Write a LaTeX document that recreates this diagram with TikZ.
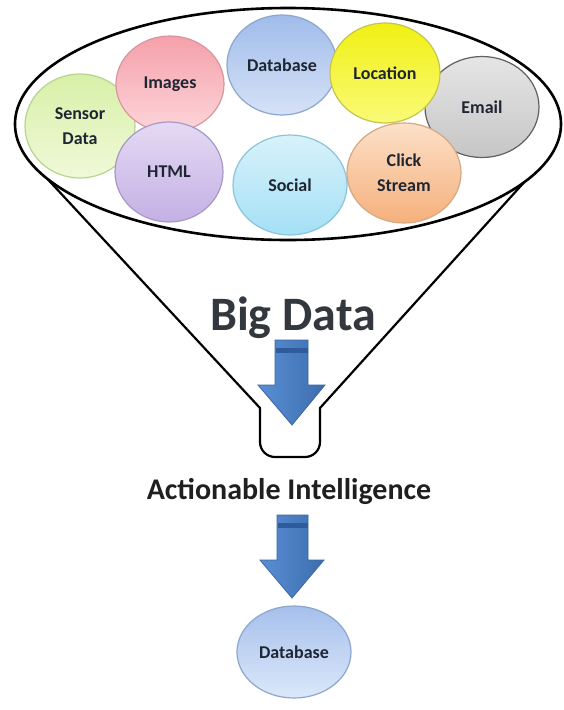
\documentclass[tikz,border=0pt]{standalone}
\usepackage{fontspec}
\setmainfont{Carlito}
\usetikzlibrary{shapes.geometric}
\definecolor{txt}{HTML}{1F2633}
\definecolor{bigtxt}{HTML}{33373E}
\definecolor{arrL}{HTML}{5A8FD4}
\definecolor{arrR}{HTML}{3C6DAE}
\definecolor{arrEdge}{HTML}{3A66A0}
\definecolor{arrBand}{HTML}{2E5C9A}
\tikzset{
  bubble/.style={ellipse, line width=1.2pt, inner sep=0pt, align=center,
    text=txt, font=\bfseries\fontsize{18}{25}\selectfont},
  funnelline/.style={draw=black, line width=2.2pt, line cap=round, line join=round},
  blockarrow/.style={left color=arrL, right color=arrR, draw=arrEdge, line width=0.8pt},
  band/.style={fill=arrBand},
}
\begin{document}
\begin{tikzpicture}[x=1pt,y=-1pt]
\fill[white] (0,0) rectangle (564,710);
\path[use as bounding box] (0,0) rectangle (564,710);

% funnel rim (shape only, outline drawn later)
\node[ellipse, minimum width=546pt, minimum height=232pt, inner sep=0pt, fill=white] (funnel) at (288,124) {};

% funnel sides and neck
\coordinate (neckL) at (260,408);
\coordinate (neckR) at (320,408);
\draw[funnelline] (funnel.193) -- (neckL);
\draw[funnelline] (funnel.346) -- (neckR);
\draw[funnelline, rounded corners=15pt] (neckL) -- (260,457) -- (320,457) -- (neckR);

% bubbles
\node[bubble, minimum width=114pt, minimum height=101pt, top color=gray!20, bottom color=gray!45, draw=gray!75!black] (email) at (482,107) {Email};
\node[bubble, minimum width=110pt, minimum height=104pt, top color={rgb,255:red,216;green,240;blue,168}, bottom color={rgb,255:red,240;green,249;blue,216}, draw={rgb,255:red,182;green,212;blue,140}] (sensor) at (80,126) {Sensor\\Data};
\node[bubble, minimum width=108pt, minimum height=96pt, top color={rgb,255:red,245;green,160;blue,170}, bottom color={rgb,255:red,252;green,214;blue,218}, draw={rgb,255:red,216;green,150;blue,158}] (images) at (170,84) {Images};
\node[bubble, minimum width=110pt, minimum height=100pt, top color={rgb,255:red,160;green,188;blue,234}, bottom color={rgb,255:red,214;green,226;blue,247}, draw={rgb,255:red,140;green,166;blue,206}] (database) at (282,65) {Database};
\node[bubble, minimum width=110pt, minimum height=100pt, top color={rgb,255:red,240;green,240;blue,20}, bottom color={rgb,255:red,250;green,250;blue,120}, draw={rgb,255:red,196;green,196;blue,80}] (location) at (385,73) {Location};
\node[bubble, minimum width=108pt, minimum height=100pt, top color={rgb,255:red,228;green,218;blue,244}, bottom color={rgb,255:red,196;green,176;blue,228}, draw={rgb,255:red,168;green,152;blue,200}] (html) at (169,172) {HTML};
\node[bubble, minimum width=114pt, minimum height=100pt, top color={rgb,255:red,216;green,242;blue,250}, bottom color={rgb,255:red,164;green,224;blue,246}, draw={rgb,255:red,140;green,196;blue,218}] (social) at (290,185) {Social};
\node[bubble, minimum width=114pt, minimum height=100pt, top color={rgb,255:red,252;green,224;blue,200}, bottom color={rgb,255:red,245;green,176;blue,124}, draw={rgb,255:red,214;green,168;blue,130}] (click) at (404,173) {Click\\Stream};

% funnel rim outline
\draw[line width=2.6pt] (funnel.center) ellipse[x radius=273, y radius=116];

% Big Data label
\node[anchor=base, inner sep=0pt, text=bigtxt, font=\bfseries\fontsize{48}{48}\selectfont] (big) at (293,330) {Big Data};

% first block arrow
\path[blockarrow] (275,340) -- (308,340) -- (308,385) -- (325,385) -- (292,425) -- (258,385) -- (275,385) -- cycle;
\fill[band] (275.5,348) rectangle (307.5,353);

% Actionable Intelligence
\node[anchor=base, inner sep=0pt, text=black!88, font=\bfseries\fontsize{30}{30}\selectfont] (action) at (289,499) {Actionable Intelligence};

% second block arrow
\path[blockarrow] (277,515) -- (308,515) -- (308,560) -- (324,560) -- (292,598) -- (260,560) -- (277,560) -- cycle;
\fill[band] (277.5,523) rectangle (307.5,528);

% output database
\node[bubble, minimum width=114pt, minimum height=92pt, top color={rgb,255:red,166;green,192;blue,236}, bottom color={rgb,255:red,220;green,232;blue,250}, draw={rgb,255:red,140;green,166;blue,206}] (dbout) at (294,652) {Database};
\end{tikzpicture}
\end{document}
